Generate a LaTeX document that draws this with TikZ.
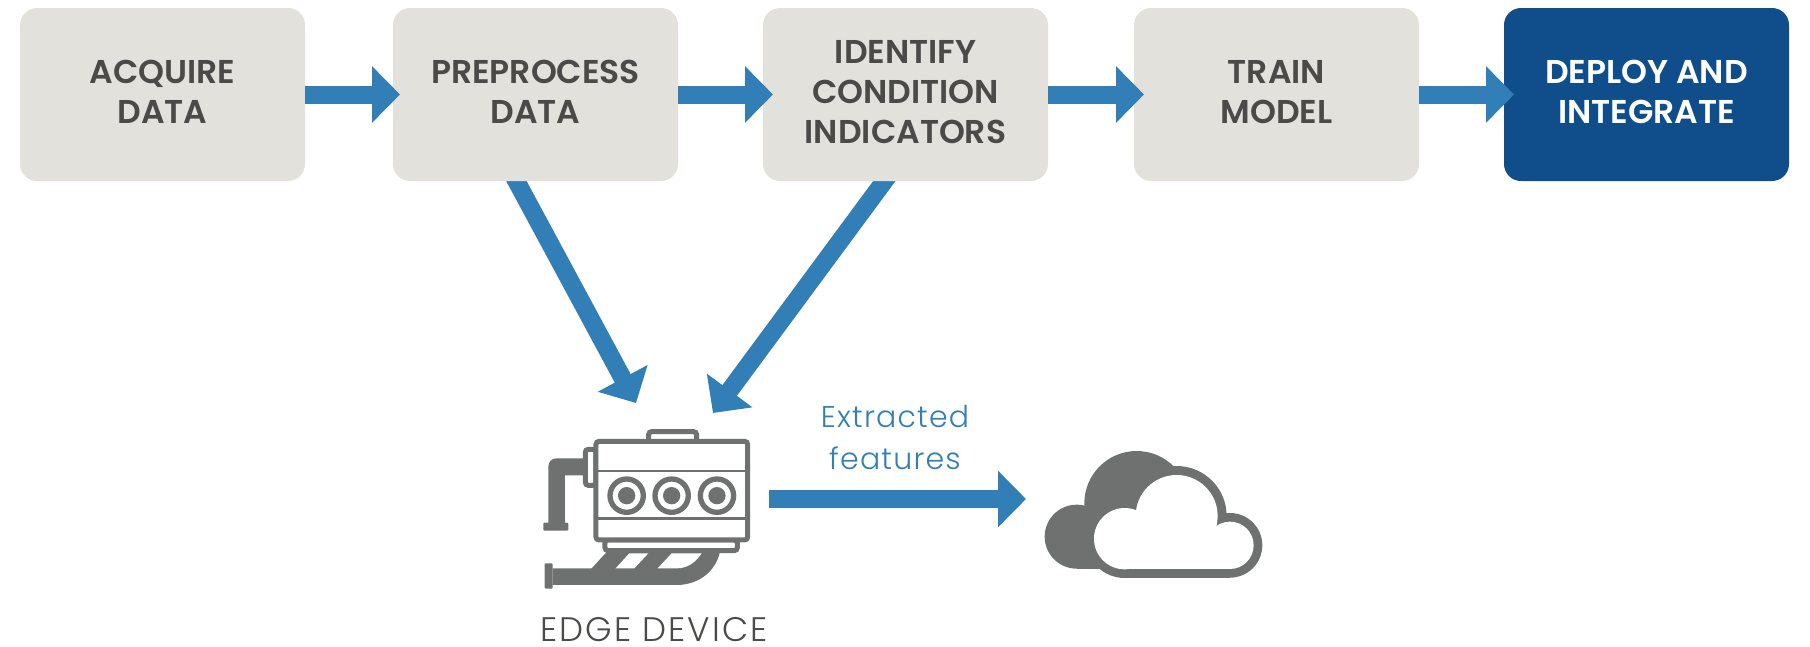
\documentclass[tikz,border=0pt]{standalone}
\usepackage{fontspec}
\usepackage{color}
\usetikzlibrary{arrows.meta}
\usetikzlibrary{backgrounds}
\setmainfont{Poppins}
\newfontfamily\stagefont{Poppins SemiBold}
\newfontfamily\thinfont{Poppins Light}[LetterSpace=4]
\newfontfamily\widefont{Poppins Light}[LetterSpace=6]
\definecolor{stagegray}{HTML}{E2E1DC}
\definecolor{stagetext}{HTML}{4A4A48}
\definecolor{deployblue}{HTML}{0F4E8A}
\definecolor{flowblue}{HTML}{317FB6}
\definecolor{icongray}{HTML}{6F7170}
\tikzset{
    stagebox/.style={anchor=north west,fill=stagegray,text=stagetext,rounded corners=17pt,minimum width=285pt,minimum height=173pt,inner sep=0pt,outer sep=0pt,align=center,text depth=5pt,font=\stagefont\fontsize{33}{40}\selectfont},
    deploybox/.style={stagebox,fill=deployblue,text=white},
    flowarrow/.style={draw=flowblue,line width=18pt,-{Triangle[length=28pt,width=55pt]}},
    iconline/.style={draw=icongray,fill=white,line width=5pt,rounded corners=3pt},
    iconfill/.style={fill=icongray},
}

\begin{document}
\begin{tikzpicture}[x=1pt,y=-1pt]
    \useasboundingbox (0,0) rectangle (1810,646);

    \node[stagebox] (acquire) at (20,8) {ACQUIRE\\DATA};
    \node[stagebox] (preprocess) at (393,8) {PREPROCESS\\DATA};
    \node[stagebox] (identify) at (763,8) {IDENTIFY\\CONDITION\\INDICATORS};
    \node[stagebox] (train) at (1134,8) {TRAIN\\MODEL};
    \node[deploybox] (deploy) at (1504,8) {DEPLOY AND\\INTEGRATE};

    \coordinate (edgeleft) at (636,403);
    \coordinate (edgeright) at (713,413);
    \coordinate (featurestart) at (769,499);
    \coordinate (featureend) at (1026,499);

    \draw[flowarrow] (acquire.east) -- ([xshift=7pt]preprocess.west);
    \draw[flowarrow] (preprocess.east) -- ([xshift=10pt]identify.west);
    \draw[flowarrow] (identify.east) -- ([xshift=10pt]train.west);
    \draw[flowarrow] (train.east) -- ([xshift=10pt]deploy.west);
    \draw[flowarrow] (featurestart) -- (featureend);

    \begin{scope}[on background layer]
        \draw[flowarrow] ([xshift=-24pt,yshift=9pt]preprocess.south) -- (edgeleft);
        \draw[flowarrow] ([xshift=-14.5pt,yshift=9pt]identify.south) -- (edgeright);
    \end{scope}

    \node[text=flowblue,font=\thinfont\fontsize{30}{42}\selectfont,align=center,inner sep=0pt] (features) at (895,438) {Extracted\\features};
    \node[text=stagetext,font=\widefont\fontsize{34}{40}\selectfont,inner sep=0pt] (edgedevice) at (654,630) {EDGE DEVICE};

    % edge device
    \begin{scope}[shift={(500,400)},x=0.3333pt,y=-0.3333pt]
        \draw[iconline] (446,122) -- (446,95) -- (590,95) -- (590,122);
        \draw[iconline] (256,148) rectangle (288,256);
        \fill[iconfill] (264,175) [rounded corners=8pt] -- (145,175) [sharp corners] -- (145,375) -- (195,375) -- (195,226) -- (264,226) -- cycle;
        \fill[iconfill,rounded corners=1pt] (130,368) rectangle (205,392);
        \draw[iconline] (315,420) rectangle (712,452);
        \fill[iconfill] (158,505) -- (275,505) -- (320,456) -- (660,456) .. controls (645,520) and (590,555) .. (530,555) -- (158,555) -- cycle;
        \fill[iconfill,rounded corners=1pt] (134,490) rectangle (158,566);
        \fill[white] (388,460) -- (445,460) -- (403,505) -- (347,505) -- cycle;
        \fill[white] (515,460) -- (605,460) .. controls (585,490) and (560,505) .. (530,505) -- (473,505) -- cycle;
        \draw[iconline] (288,124) rectangle (743,420);
        \draw[icongray,line width=2.7pt] (288,213) -- (743,213);
        \draw[icongray,line width=2.7pt] (288,355) -- (743,355);
        \foreach \cylx in {380,515,651} {
            \draw[icongray,line width=5.3pt] (\cylx,287) circle[radius=50];
            \fill[iconfill] (\cylx,287) circle[radius=26];
        }
    \end{scope}

    % cloud
    \begin{scope}[shift={(1020,430)},x=0.3333pt,y=-0.3333pt]
        \fill[iconfill] (170,320) circle[radius=96];
        \fill[iconfill] (350,220) circle[radius=157];
        \fill[iconfill] (314,326) circle[radius=118];
        \fill[iconfill] (470,258) circle[radius=150];
        \fill[iconfill] (630,346) circle[radius=97];
        \fill[iconfill] (170,300) rectangle (314,416);
        \fill[iconfill] (314,340) rectangle (630,443);
        \fill[white] (314,326) circle[radius=92];
        \fill[white] (470,258) circle[radius=123];
        \fill[white] (630,346) circle[radius=71];
        \fill[white] (314,300) rectangle (630,417);
    \end{scope}
\end{tikzpicture}
\end{document}
